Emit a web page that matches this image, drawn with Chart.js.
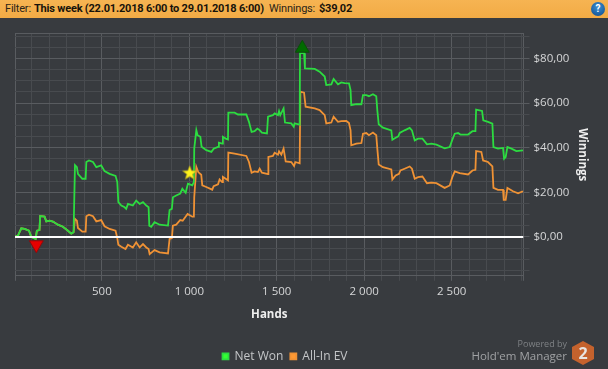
<!DOCTYPE html>
<html>
<head>
<meta charset="utf-8">
<title>Winnings</title>
<script src="https://cdn.jsdelivr.net/npm/chart.js@4"></script>
<style>
	html, body { margin: 0; padding: 0; background: #383b3f; }
	body { position: relative; width: 608px; height: 369px; overflow: hidden; font-family: "Open Sans", sans-serif; }
	#chartWrap { position: absolute; left: 0; top: 0; width: 608px; height: 369px; }
	#filterBar { position: absolute; left: 0; top: 0; width: 608px; height: 18px; background: linear-gradient(#f6b452, #f2ab45); font-family: Roboto, sans-serif; font-size: 11px; letter-spacing: -0.2px; line-height: 18px; color: #2a2418; z-index: 2; }
	#filterBar span { position: absolute; top: 0; white-space: nowrap; }
	#filterBar b { font-weight: 700; color: #17130b; }
	#help { position: absolute; left: 591px; top: 2px; width: 14px; height: 14px; border-radius: 50%; background: radial-gradient(circle at 50% 35%, #3d8fd0, #0d4a8c); color: #fff; font-weight: 700; font-size: 10px; line-height: 14px; text-align: center; letter-spacing: 0; }
	.brand { position: absolute; white-space: nowrap; text-align: right; right: 41px; z-index: 2; }
	#poweredBy { top: 337px; font-size: 9px; line-height: 14px; color: #7e8184; }
	#holdem { top: 348px; font-size: 11.5px; line-height: 16px; color: #a0a2a4; }
	#logo { position: absolute; left: 572px; top: 341px; z-index: 2; }
</style>
</head>
<body>
<div id="chartWrap"><canvas id="winningsChart" width="608" height="369"></canvas></div>
<div id="filterBar">
	<span style="left:5px">Filter:</span>
	<span style="left:34px"><b>This week (22.01.2018 6:00 to 29.01.2018 6:00)</b></span>
	<span style="left:269px">Winnings:</span>
	<span style="left:319px"><b>$39,02</b></span>
	<div id="help">?</div>
</div>
<div class="brand" id="poweredBy">Powered by</div>
<div class="brand" id="holdem">Hold'em Manager</div>
<svg id="logo" width="22" height="24" viewBox="0 0 22 24">
	<polygon points="11,0 22,6 22,18 11,24 0,18 0,6" fill="#c4622d"/>
	<text x="11" y="18" text-anchor="middle" font-family="Open Sans" font-weight="700" font-size="16" fill="#e8e4e0">2</text>
</svg>
<script>
const netWonHands = [3, 20, 39, 58, 83, 96, 121, 128, 143, 147, 172, 182, 201, 220, 248, 277, 306, 325, 338, 346, 357, 363, 388, 407, 411, 426, 449, 468, 496, 515, 544, 578, 588, 594, 611, 630, 639, 649, 677, 696, 716, 735, 754, 767, 771, 782, 801, 830, 878, 887, 900, 906, 925, 948, 960, 979, 992, 1017, 1026, 1028, 1040, 1047, 1063, 1070, 1097, 1126, 1139, 1164, 1169, 1188, 1192, 1208, 1221, 1223, 1259, 1278, 1326, 1341, 1356, 1373, 1389, 1402, 1415, 1444, 1450, 1478, 1488, 1507, 1513, 1520, 1539, 1547, 1583, 1597, 1602, 1631, 1633, 1656, 1661, 1717, 1745, 1774, 1783, 1812, 1825, 1850, 1869, 1888, 1913, 1922, 1926, 1955, 1984, 1993, 2012, 2027, 2050, 2069, 2075, 2083, 2107, 2155, 2161, 2180, 2195, 2203, 2231, 2260, 2273, 2289, 2308, 2333, 2359, 2384, 2413, 2460, 2489, 2504, 2518, 2537, 2550, 2594, 2619, 2636, 2640, 2674, 2681, 2708, 2733, 2739, 2765, 2794, 2800, 2809, 2819, 2842, 2870, 2908];
const netWonValues = [0.1, 0.6, 3.9, 3.6, 2.8, 0.1, -0.9, 2.8, 3.1, 9.4, 9.1, 7, 7.3, 6.9, 5.5, 4.6, 2.8, 1.5, 2.1, 32.2, 31.3, 28.3, 26.1, 26.1, 33.6, 34.3, 33.6, 31.3, 32.1, 29.5, 28.3, 27.4, 24.6, 15.6, 14.1, 13.3, 12.6, 14.8, 14.1, 16.3, 14.8, 15.6, 14.1, 13.3, 5.1, 4.6, 6.6, 5.5, 5.1, 12.1, 12.6, 17.8, 18.6, 19.4, 21.6, 19.8, 23.9, 23.1, 24.6, 39.6, 47.9, 45.6, 44.9, 40.4, 38.9, 38.1, 39.6, 40.4, 42.3, 41.9, 44.9, 44.1, 43.7, 55.7, 55.7, 54.9, 54.9, 51.6, 47.1, 47.4, 48.6, 47.9, 46.8, 46.4, 53.9, 54.6, 55.4, 54.6, 56.4, 54.6, 57.6, 51.3, 50.9, 49.4, 50.9, 50.4, 82.4, 82.4, 75.6, 75.3, 74.1, 71.9, 68.1, 68.4, 70.8, 68.4, 69.3, 69, 68.9, 65.8, 59.1, 59.5, 59.5, 63.6, 63.6, 63.1, 64, 63.1, 56.8, 50.5, 49, 47.8, 43.6, 44.5, 45.1, 46.6, 47.8, 48.9, 47.8, 43.3, 44.1, 44.1, 41.5, 41.8, 41.4, 39.7, 40.3, 43.6, 46.3, 46.6, 45.9, 45.9, 47.4, 47.4, 57.1, 56.5, 52.3, 51.6, 50.8, 40.3, 39.6, 39.9, 35.1, 35.8, 40.3, 39.6, 38.5, 38.8];

const allInEvHands = [3, 20, 39, 58, 83, 96, 121, 128, 143, 147, 172, 182, 201, 220, 248, 277, 306, 325, 338, 346, 357, 363, 388, 407, 411, 426, 449, 468, 496, 515, 544, 578, 588, 594, 611, 635, 649, 677, 696, 716, 735, 754, 767, 773, 801, 830, 878, 887, 900, 906, 925, 948, 962, 990, 1017, 1026, 1028, 1040, 1051, 1068, 1074, 1097, 1131, 1139, 1164, 1173, 1188, 1192, 1208, 1221, 1223, 1259, 1326, 1341, 1356, 1373, 1392, 1402, 1415, 1450, 1452, 1478, 1488, 1507, 1513, 1526, 1539, 1551, 1583, 1599, 1606, 1631, 1635, 1656, 1665, 1717, 1745, 1774, 1783, 1812, 1825, 1850, 1869, 1898, 1913, 1922, 1926, 1955, 1984, 1993, 2012, 2027, 2050, 2069, 2075, 2083, 2107, 2155, 2161, 2180, 2199, 2207, 2231, 2260, 2273, 2289, 2308, 2333, 2359, 2384, 2413, 2460, 2489, 2504, 2518, 2546, 2594, 2619, 2636, 2640, 2670, 2680, 2708, 2733, 2739, 2765, 2794, 2798, 2809, 2819, 2851, 2880, 2908];
const allInEvValues = [0.1, 0.6, 3.9, 3.6, 2.8, 0.1, -0.9, 2.8, 3.1, 9.4, 9.1, 7, 7.3, 6.9, 5.5, 4.6, 2.8, 1.5, 2.1, 8.1, 7.3, 4, 2.4, 2.4, 9.3, 10, 9.3, 7, 7.6, 4.8, 3.6, 2.8, -0.5, -3.5, -4.4, -5.4, -3.5, -4.7, -2.4, -4.7, -3.2, -4.7, -5.4, -7.7, -5.9, -6.9, -7.4, -0.9, -0.5, 5.1, 5.5, 7.6, 7.3, 10.3, 9.1, 9.1, 17.8, 31.4, 29.1, 27.9, 23.1, 22.4, 21.2, 22.8, 23.6, 25.8, 24.6, 26.9, 26.1, 25.4, 37.8, 37.4, 36.3, 33.6, 28.8, 29.4, 29.1, 30.6, 28.8, 28.2, 35.9, 36.3, 37.8, 36.9, 38.4, 36.9, 39.6, 33.9, 33.6, 31.8, 33.6, 33, 65.1, 64.7, 58.4, 57.6, 56.9, 54.6, 50.9, 51.3, 53.9, 51.6, 51.9, 52, 51.1, 47.8, 41.1, 41.8, 42.1, 46.3, 46.6, 45.6, 46.8, 45.6, 39.6, 32.5, 31.3, 30.3, 25.8, 27.6, 28.3, 29.8, 30.6, 31.6, 30.6, 26.1, 26.8, 27.1, 24.1, 24.4, 24.1, 22, 23.1, 26.8, 29.4, 28.6, 28, 29.8, 30.1, 38.5, 38.1, 34.3, 33.6, 31.6, 22, 21.1, 21.1, 16.6, 16.6, 22, 20.5, 19.6, 20.5];

const minWinHand = [125];
const minWinValue = [-3.5];
const maxWinHand = [1646];
const maxWinValue = [84.6];
const starHand = [1002];
const starValue = [28.6];

const xMajorTicks = [500, 1000, 1500, 2000, 2500];
const xMinorTicks = [100, 200, 300, 400, 600, 700, 800, 900, 1100, 1200, 1300, 1400, 1600, 1700, 1800, 1900, 2100, 2200, 2300, 2400, 2600, 2700, 2800, 2900];
const yMajorTicks = [0, 20, 40, 60, 80];
const yMinorTicks = [-15, -10, -5, 5, 10, 15, 25, 30, 35, 45, 50, 55, 65, 70, 75, 85, 90];
const xMin = 3;
const xMax = 2911;
const yMin = -17.4;
const yMax = 91.2;

const majorGrid = '#595c60';
const minorGrid = '#484b4f';

function pairs(xs, ys) {
	return xs.map((x, i) => ({ x: x, y: ys[i] }));
}

function groupSpaced(n) {
	return n.toLocaleString('fr-FR').replace(/\s/g, ' ');
}

// filled five point star, Chart.js only has the stroked one
function makeStar(size, fill, stroke) {
	const c = document.createElement('canvas');
	c.width = size;
	c.height = size;
	const g = c.getContext('2d');
	const r = size / 2 - 1;
	g.beginPath();
	for (let i = 0; i < 10; i++) {
		const a = -Math.PI / 2 + i * Math.PI / 5;
		const d = i % 2 ? r * 0.42 : r;
		g.lineTo(size / 2 + Math.cos(a) * d, size / 2 + Math.sin(a) * d);
	}
	g.closePath();
	g.fillStyle = fill;
	g.fill();
	g.strokeStyle = stroke;
	g.lineWidth = 0.6;
	g.stroke();
	return c;
}

const shiftLegend = {
	id: 'shiftLegend',
	afterLayout(chart) {
		chart.legend.left -= 17;
		chart.legend.right -= 17;
		chart.legend.top += 22;
		chart.legend.bottom += 22;
	}
};

new Chart(document.getElementById('winningsChart'), {
	type: 'line',
	plugins: [shiftLegend],
	data: {
		datasets: [
			{
				label: 'Net Won',
				data: pairs(netWonHands, netWonValues),
				borderColor: '#2cdc40',
				backgroundColor: '#33ff33',
				borderWidth: 1.8,
				pointRadius: 0,
				order: 2
			},
			{
				label: 'All-In EV',
				data: pairs(allInEvHands, allInEvValues),
				borderColor: '#ef9235',
				backgroundColor: '#ff9933',
				borderWidth: 1.8,
				pointRadius: 0,
				order: 3
			},
			{
				label: 'zero',
				data: pairs([xMin, xMax], [0, 0]),
				borderColor: '#ffffff',
				borderWidth: 2,
				pointRadius: 0,
				order: 1
			},
			{
				label: 'low',
				data: pairs(minWinHand, minWinValue),
				showLine: false,
				pointStyle: 'triangle',
				pointRotation: 180,
				pointRadius: 8,
				pointBackgroundColor: '#e60000',
				pointBorderColor: '#8e0b0b',
				pointBorderWidth: 1,
				order: 0
			},
			{
				label: 'high',
				data: pairs(maxWinHand, maxWinValue),
				showLine: false,
				pointStyle: 'triangle',
				pointRadius: 8,
				pointBackgroundColor: '#006b00',
				pointBorderColor: '#0b4d0b',
				pointBorderWidth: 1,
				order: 0
			},
			{
				label: 'star',
				data: pairs(starHand, starValue),
				showLine: false,
				pointStyle: makeStar(17, '#fff21c', '#a89a20'),
				order: 0
			}
		]
	},
	options: {
		responsive: false,
		animation: false,
		layout: { padding: { left: 15, top: 33.5, right: 19, bottom: 18.7 } },
		plugins: {
			tooltip: { enabled: false },
			legend: {
				position: 'bottom',
				labels: {
					color: '#c4c6c8',
					font: { family: 'Open Sans', size: 12 },
					usePointStyle: true,
					pointStyle: 'rect',
					boxWidth: 6,
					boxHeight: 6,
					padding: 7,
					filter: (item) => item.text === 'Net Won' || item.text === 'All-In EV'
				}
			}
		},
		scales: {
			x: {
				type: 'linear',
				min: xMin,
				max: xMax,
				afterBuildTicks(scale) {
					scale.ticks = [xMin, ...xMinorTicks, ...xMajorTicks, xMax].sort((a, b) => a - b).map((v) => ({ value: v }));
				},
				afterFit(scale) {
					scale.height = 45.5;
				},
				grid: {
					color: (c) => xMinorTicks.includes(c.tick.value) ? minorGrid : majorGrid,
					tickColor: (c) => xMinorTicks.includes(c.tick.value) ? minorGrid : majorGrid,
					tickLength: 5
				},
				border: { display: false },
				ticks: {
					autoSkip: false,
					maxRotation: 0,
					padding: 4,
					color: '#d6d7d8',
					font: { family: 'Open Sans', size: 11.5 },
					callback: (v) => xMajorTicks.includes(v) ? groupSpaced(v) : ''
				},
				title: {
					display: true,
					text: 'Hands',
					color: '#eeeeee',
					font: { family: 'Open Sans', size: 11.5, weight: 'bold' },
					padding: 0
				}
			},
			y: {
				type: 'linear',
				position: 'right',
				min: yMin,
				max: yMax,
				afterBuildTicks(scale) {
					scale.ticks = [yMin, ...yMinorTicks, ...yMajorTicks, yMax].sort((a, b) => a - b).map((v) => ({ value: v }));
				},
				afterFit(scale) {
					scale.width = 65.5;
				},
				grid: {
					color: (c) => yMinorTicks.includes(c.tick.value) ? minorGrid : majorGrid,
					tickColor: (c) => yMinorTicks.includes(c.tick.value) ? minorGrid : (yMajorTicks.includes(c.tick.value) ? majorGrid : 'transparent'),
					tickLength: 6
				},
				border: { display: false },
				ticks: {
					autoSkip: false,
					padding: 4,
					color: '#d6d7d8',
					font: { family: 'Open Sans', size: 11.5 },
					callback: (v) => yMajorTicks.includes(v) ? '$' + v + ',00' : ''
				},
				title: {
					display: true,
					text: 'Winnings',
					color: '#eeeeee',
					font: { family: 'Open Sans', size: 11.5, weight: 'bold' },
					padding: 0
				}
			}
		}
	}
});
</script>
</body>
</html>
